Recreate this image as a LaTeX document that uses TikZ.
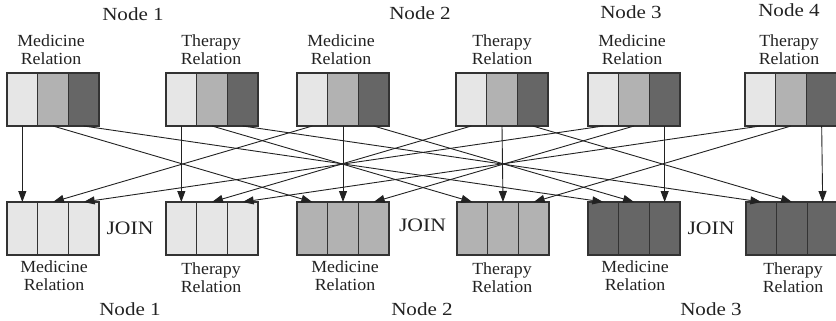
\documentclass[tikz,border=0pt]{standalone}
\usepackage{fontspec}
\setmainfont{Liberation Serif}
\newfontfamily\titlefont[FakeStretch=1.14]{Liberation Serif}
\newfontfamily\relfont[FakeStretch=1.05]{Liberation Serif}
\usetikzlibrary{arrows.meta}
\definecolor{cellL}{HTML}{E6E6E6}
\definecolor{cellM}{HTML}{B2B2B2}
\definecolor{cellD}{HTML}{666666}
\definecolor{edge}{HTML}{333333}
\definecolor{ink}{HTML}{222222}

\begin{document}
\begin{tikzpicture}[x=1pt,y=-1pt,
  cell/.style={draw=edge, line width=1.1pt, minimum width=30.67pt, minimum height=53pt, inner sep=0pt, outer sep=0pt},
  rel/.style={font=\relfont\fontsize{17}{18}\selectfont, text=ink, align=center, inner sep=0pt, anchor=north},
  nodelabel/.style={font=\titlefont\fontsize{18.5}{20}\selectfont, text=ink, inner sep=0pt, anchor=base},
  joinlabel/.style={font=\titlefont\fontsize{19}{20}\selectfont, text=ink, inner sep=0pt, anchor=base},
  flow/.style={draw=ink, line width=0.9pt, -{Triangle[length=11pt,width=8pt]}}]

\useasboundingbox (0,0) rectangle (836,321);

% source relations: each split into three hash partitions
\foreach \i/\L in {1/7,2/166,3/297,4/456,5/588,6/745} {
  \node[cell, fill=cellL] (t\i-1) at (\L+15.33,99.5) {};
  \node[cell, fill=cellM] (t\i-2) at (\L+46,99.5) {};
  \node[cell, fill=cellD] (t\i-3) at (\L+76.67,99.5) {};
}

% redistributed relations, one partition colour per target node
\foreach \i/\L/\c in {1/7/cellL,2/166/cellL,3/297/cellM,4/457/cellM,5/588/cellD,6/746/cellD} {
  \foreach \k/\dx in {1/15.33,2/46,3/76.67}
    \node[cell, fill=\c] (b\i-\k) at (\L+\dx,228.5) {};
}

% partition flows: relation r, partition c, from the k-th source node
\foreach \r in {0,1}
  \foreach \c in {1,2,3}
    \foreach \k in {1,2,3} {
      \pgfmathtruncatemacro\src{2*(\k-1)+\r+1}
      \pgfmathtruncatemacro\dst{2*(\c-1)+\r+1}
      \draw[flow] (t\src-\c.south) -- (b\dst-\k.north);
    }

% relation captions
\node[rel] (tr1) at (51,35) {Medicine\\Relation};
\node[rel] (tr2) at (211,35) {Therapy\\Relation};
\node[rel] (tr3) at (341,35) {Medicine\\Relation};
\node[rel] (tr4) at (502,35) {Therapy\\Relation};
\node[rel] (tr5) at (632,35) {Medicine\\Relation};
\node[rel] (tr6) at (789,35) {Therapy\\Relation};

\node[rel] (br1) at (54,261) {Medicine\\Relation};
\node[rel] (br2) at (211,263) {Therapy\\Relation};
\node[rel] (br3) at (345,261) {Medicine\\Relation};
\node[rel] (br4) at (502,263) {Therapy\\Relation};
\node[rel] (br5) at (635,261) {Medicine\\Relation};
\node[rel] (br6) at (793,263) {Therapy\\Relation};

% node captions
\node[nodelabel] (tn1) at (133,20.7) {Node 1};
\node[nodelabel] (tn2) at (420,20) {Node 2};
\node[nodelabel] (tn3) at (631,18.3) {Node 3};
\node[nodelabel] (tn4) at (789,16.7) {Node 4};

\node[nodelabel] (bn1) at (130,315) {Node 1};
\node[nodelabel] (bn2) at (422,315) {Node 2};
\node[nodelabel] (bn3) at (711,315) {Node 3};

% join markers
\node[joinlabel] (j1) at (130,234.3) {JOIN};
\node[joinlabel] (j2) at (422.5,231.7) {JOIN};
\node[joinlabel] (j3) at (711,234.3) {JOIN};
\end{tikzpicture}
\end{document}
